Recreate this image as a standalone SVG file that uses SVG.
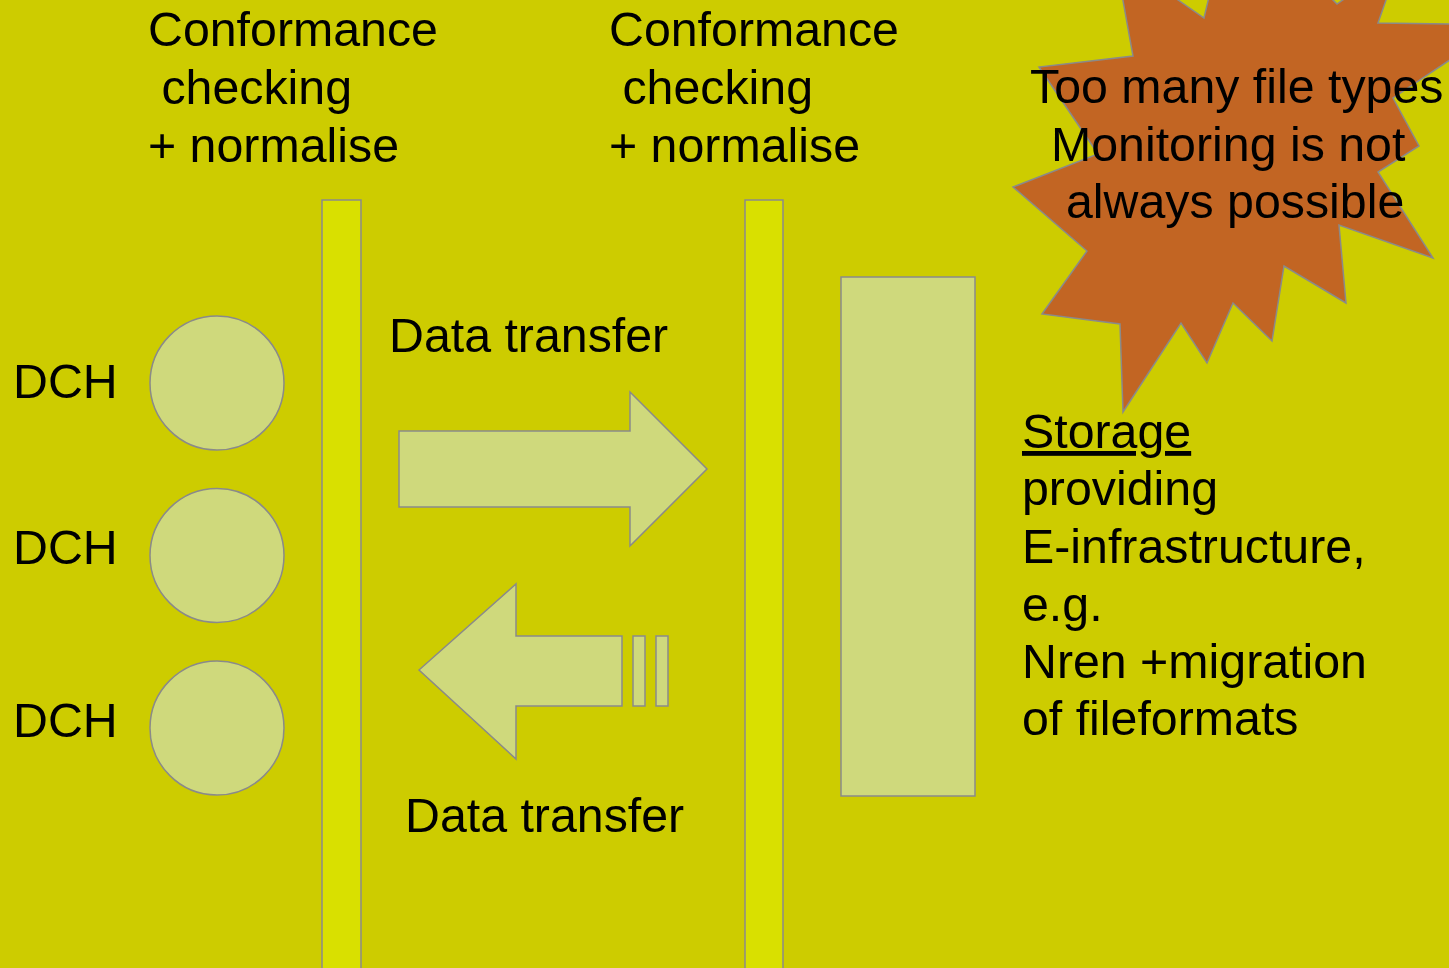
<svg xmlns="http://www.w3.org/2000/svg" width="1449" height="968" viewBox="0 0 1449 968">
<style>
  text { font-family: "Liberation Sans", Arial, sans-serif; font-size: 48.3px; fill: #000; }
  .shape { stroke: #8a8a8a; stroke-width: 1.5; }
  .pillar { fill: #d9e000; }
  .light { fill: #cfd97c; }
  .star { fill: #c26523; }
</style>
<rect width="1449" height="968" fill="#cdcc00"/>
<g id="starburst">
  <polygon class="shape star" points="1115,-44 1133,56 1039,67 1098,154 1013,187 1087,251 1042,314 1120,324 1123,412 1181,323 1207,363 1233,303 1272,341 1284,266 1346,303 1339,225 1433,258 1378,172 1419,146 1393,98 1502,25 1449,24 1378,23 1400,-40 1337,4 1232,-100 1204,18 1178,0"/>
  <text x="1030" y="103">Too many file types</text>
  <text x="1051" y="161">Monitoring is not</text>
  <text x="1066" y="218">always possible</text>
</g>
<g id="label-left">
  <text x="148" y="46">Conformance</text>
  <text x="148" y="104" xml:space="preserve"> checking</text>
  <text x="148" y="162">+ normalise</text>
</g>
<g id="label-mid">
  <text x="609" y="46">Conformance</text>
  <text x="609" y="104" xml:space="preserve"> checking</text>
  <text x="609" y="162">+ normalise</text>
</g>
<g id="pillar-left">
  <rect class="shape pillar" x="322" y="200" width="39" height="800"/>
</g>
<g id="pillar-mid">
  <rect class="shape pillar" x="745" y="200" width="38" height="800"/>
</g>
<g id="storage-box">
  <rect class="shape light" x="841" y="277" width="134" height="519"/>
</g>
<g id="dch1">
  <circle class="shape light" cx="217" cy="383" r="67"/>
  <text x="13" y="398">DCH</text>
</g>
<g id="dch2">
  <circle class="shape light" cx="217" cy="555.5" r="67"/>
  <text x="13" y="564">DCH</text>
</g>
<g id="dch3">
  <circle class="shape light" cx="217" cy="728" r="67"/>
  <text x="13" y="737">DCH</text>
</g>
<g id="connectors">
  <polygon class="shape light" points="399,431 630,431 630,392 707,469 630,546 630,507 399,507"/>
  <polygon class="shape light" points="419,670 516,584 516,636 622,636 622,706 516,706 516,759"/>
  <rect class="shape light" x="633" y="636" width="12" height="70"/>
  <rect class="shape light" x="656" y="636" width="12" height="70"/>
  <text x="389" y="352">Data transfer</text>
  <text x="405" y="832">Data transfer</text>
</g>
<g id="storage-text">
  <text x="1022" y="448" text-decoration="underline">Storage</text>
  <text x="1022" y="505">providing</text>
  <text x="1022" y="563">E-infrastructure,</text>
  <text x="1022" y="621">e.g.</text>
  <text x="1022" y="678">Nren +migration</text>
  <text x="1022" y="735">of fileformats</text>
</g>
</svg>
